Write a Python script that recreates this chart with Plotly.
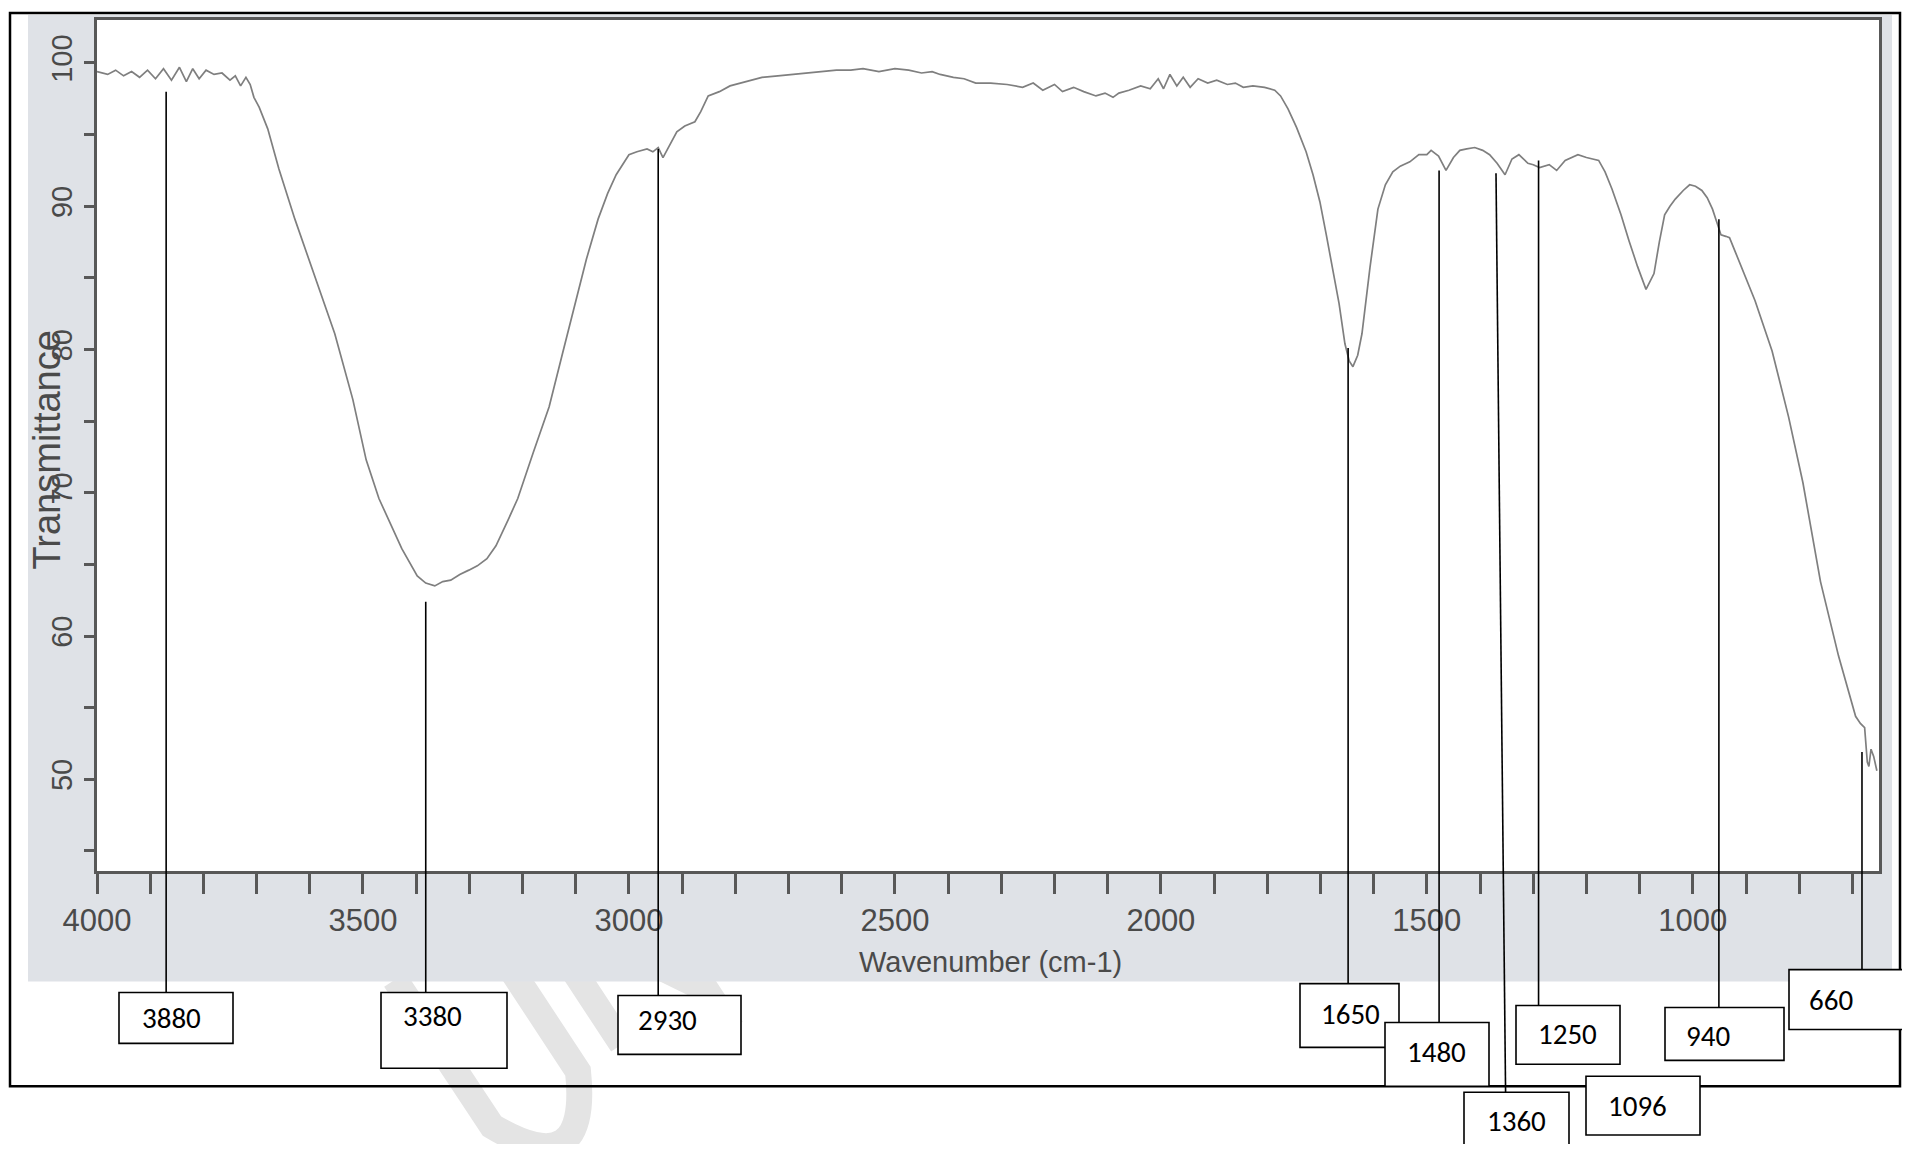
import plotly.graph_objects as go

# ---------------- data ----------------
wavenumber = [
    4000, 3980, 3965, 3950, 3935, 3920, 3905, 3890, 3875, 3860, 3845, 3832, 3820, 3808, 3795,
    3780, 3765, 3750, 3740, 3730, 3720, 3712, 3705, 3695, 3679, 3658, 3628, 3596, 3553, 3519,
    3494, 3470, 3450, 3427, 3398, 3382, 3365, 3350, 3335, 3318, 3301, 3285, 3267, 3250, 3226,
    3209, 3180, 3150, 3125, 3100, 3080, 3058, 3040, 3024, 3010, 3000, 2985, 2966, 2955, 2945,
    2936, 2925, 2910, 2895, 2876, 2865, 2851, 2830, 2810, 2780, 2750, 2720, 2690, 2667, 2640,
    2610, 2583, 2560, 2530, 2500, 2474, 2450, 2430, 2415, 2390, 2370, 2348, 2320, 2289, 2260,
    2240, 2222, 2200, 2185, 2164, 2145, 2122, 2105, 2090, 2079, 2060, 2038, 2020, 2005, 1995,
    1983, 1970, 1958, 1945, 1930, 1912, 1895, 1875, 1860, 1845, 1827, 1805, 1786, 1775, 1761,
    1745, 1727, 1714, 1701, 1689, 1677, 1665, 1654, 1646, 1639, 1630, 1622, 1607, 1592, 1578,
    1564, 1550, 1532, 1515, 1500, 1492, 1478, 1464, 1450, 1438, 1425, 1410, 1395, 1382, 1368,
    1353, 1340, 1327, 1310, 1300, 1288, 1270, 1256, 1240, 1216, 1200, 1177, 1165, 1152, 1135,
    1120, 1104, 1088, 1073, 1063, 1053, 1043, 1033, 1018, 1006, 995, 983, 973, 963, 955,
    947, 938, 931, 920, 908, 883, 851, 820, 793, 760, 726, 694, 685, 677, 672,
    669, 665, 660, 654,
]
transmittance = [
    99.4, 99.2, 99.5, 99.1, 99.4, 99.0, 99.5, 98.9, 99.6, 98.8, 99.7, 98.7, 99.6, 98.9, 99.5,
    99.2, 99.3, 98.8, 99.1, 98.4, 99.0, 98.5, 97.6, 96.9, 95.4, 92.6, 89.1, 85.7, 81.1, 76.5,
    72.3, 69.6, 68.0, 66.1, 64.2, 63.7, 63.5, 63.8, 63.9, 64.3, 64.6, 64.9, 65.4, 66.3, 68.2,
    69.6, 72.8, 76.0, 79.7, 83.4, 86.3, 89.1, 90.9, 92.2, 93.0, 93.6, 93.8, 94.0, 93.8, 94.1,
    93.4, 94.2, 95.2, 95.6, 95.9, 96.6, 97.7, 98.0, 98.4, 98.7, 99.0, 99.1, 99.2, 99.3, 99.4,
    99.5, 99.5, 99.6, 99.4, 99.6, 99.5, 99.3, 99.4, 99.2, 99.0, 98.9, 98.6, 98.6, 98.5, 98.3,
    98.6, 98.1, 98.5, 98.0, 98.3, 98.0, 97.7, 97.9, 97.6, 97.9, 98.1, 98.4, 98.2, 98.9, 98.2,
    99.2, 98.4, 99.0, 98.3, 98.9, 98.6, 98.8, 98.5, 98.6, 98.3, 98.4, 98.3, 98.1, 97.7, 96.8,
    95.5, 93.8, 92.2, 90.3, 88.0, 85.7, 83.2, 80.4, 79.2, 78.8, 79.6, 81.1, 85.7, 89.8, 91.5,
    92.4, 92.8, 93.1, 93.6, 93.6, 93.9, 93.5, 92.5, 93.4, 93.9, 94.0, 94.1, 93.9, 93.6, 93.0,
    92.2, 93.3, 93.6, 93.0, 92.9, 92.7, 92.9, 92.5, 93.2, 93.6, 93.4, 93.2, 92.4, 91.2, 89.4,
    87.6, 85.8, 84.2, 85.3, 87.5, 89.4, 90.0, 90.5, 91.1, 91.5, 91.4, 91.1, 90.6, 89.8, 88.9,
    88.0, 87.9, 87.8, 86.8, 85.7, 83.4, 79.9, 75.3, 70.7, 63.8, 58.6, 54.4, 53.9, 53.6, 51.2,
    50.9, 52.1, 51.6, 50.6,
]

x_tick_values = [4000, 3500, 3000, 2500, 2000, 1500, 1000]
y_tick_values = [50, 60, 70, 80, 90, 100]

peak_labels = ["3880", "3380", "2930", "1650", "1480", "1360", "1250", "1096", "940", "660"]
# where each pointer line sits on the spectrum
peak_line_top_wn = [3870, 3382, 2945, 1648, 1477, 1370, 1290, None, 951, 682]
peak_line_bottom_wn = [3870, 3382, 2945, 1648, 1477, 1352, 1290, None, 951, 682]
peak_line_top_t = [98.0, 62.4, 94.0, 80.1, 92.5, 92.3, 93.2, None, 89.1, 51.9]

# ---------------- layout constants (page pixels) ----------------
BODY = 8                      # default page body margin before the figure
PAGE_W, PAGE_H = 1910, 1152
W, H = PAGE_W - 2 * BODY, PAGE_H - 2 * BODY
PL, PR, PT, PB = 97, 1879, 17, 871   # plotting area in page pixels
ML, MT = PL - BODY, PT - BODY
MR = (BODY + W) - PR
MB = (BODY + H) - PB
PW, PH = PR - PL, PB - PT
X_RANGE = [4000, 650]
Y_RANGE = [43.6, 103.0]

# label boxes: x0, y0, x1, y1 (page pixels) and text centre (page pixels)
label_boxes = [
    (119, 993, 233, 1044, 171, 1019),
    (381, 993, 507, 1069, 432, 1017),
    (618, 996, 741, 1055, 667, 1021),
    (1300, 984, 1399, 1048, 1350, 1015),
    (1385, 1023, 1489, 1087, 1436, 1053),
    (1464, 1093, 1569, 1160, 1516, 1122),
    (1516, 1006, 1620, 1065, 1567, 1035),
    (1586, 1077, 1700, 1136, 1637, 1107),
    (1665, 1008, 1784, 1061, 1708, 1037),
    (1789, 970, 1915, 1030, 1831, 1000),
]

# faint watermark strokes (page pixels), partly hidden by the scanned area
watermark_paths = [
    [("M", 395, 980), ("L", 492, 1127), ("Q", 590, 1186, 578, 1072), ("L", 485, 930)],
    [("M", 622, 1045), ("L", 529, 903), ("L", 706, 990), ("L", 613, 848)],
]


def px_x(px):
    return (px - PL) / PW


def px_y(py):
    return 1 - (py - PT) / PH


def val_y(v):
    return (v - Y_RANGE[0]) / (Y_RANGE[1] - Y_RANGE[0])


def path_str(cmds):
    out = []
    for c in cmds:
        op, pts = c[0], c[1:]
        coords = []
        for j in range(0, len(pts), 2):
            coords.append(f"{px_x(pts[j]):.5f},{px_y(pts[j + 1]):.5f}")
        out.append(op + " " + " ".join(coords))
    return " ".join(out)


fig = go.Figure()
fig.add_trace(go.Scatter(
    x=wavenumber, y=transmittance, mode="lines",
    line=dict(color="#7f7f7f", width=1.7), showlegend=False, hoverinfo="x+y",
))

shapes = []
for p in watermark_paths:
    shapes.append(dict(type="path", xref="paper", yref="paper", layer="below",
                       path=path_str(p), line=dict(color="#e4e4e4", width=26)))
# scanned grey background and white plotting area
shapes.append(dict(type="rect", xref="paper", yref="paper", layer="below",
                   x0=px_x(28), x1=px_x(1892), y0=px_y(982), y1=px_y(12),
                   fillcolor="#dfe2e7", line=dict(width=0)))
shapes.append(dict(type="rect", xref="paper", yref="paper", layer="below",
                   x0=0, x1=1, y0=0, y1=1, fillcolor="#ffffff", line=dict(width=0)))
# outer black frame
shapes.append(dict(type="rect", xref="paper", yref="paper", layer="above",
                   x0=px_x(10), x1=px_x(1900), y0=px_y(1087), y1=px_y(10),
                   line=dict(color="black", width=2.5)))

annotations = []
for i, lab in enumerate(peak_labels):
    bx0, by0, bx1, by1, tx, ty = label_boxes[i]
    if peak_line_top_wn[i] is not None:
        shapes.append(dict(type="line", xref="x", yref="paper", layer="above",
                           x0=peak_line_bottom_wn[i], x1=peak_line_top_wn[i],
                           y0=px_y(by0), y1=val_y(peak_line_top_t[i]),
                           line=dict(color="black", width=1.6)))
    shapes.append(dict(type="rect", xref="paper", yref="paper", layer="above",
                       x0=px_x(bx0), x1=px_x(bx1), y0=px_y(by1), y1=px_y(by0),
                       fillcolor="white", line=dict(color="black", width=1.6)))
    annotations.append(dict(text=lab, xref="paper", yref="paper",
                            x=px_x(tx), y=px_y(ty), xanchor="center", yanchor="middle",
                            showarrow=False,
                            font=dict(family="Carlito, Lato, sans-serif", size=29, color="black")))

annotations.append(dict(text="Transmittance", xref="paper", yref="paper",
                        x=px_x(47), y=px_y(449), textangle=-90,
                        xanchor="center", yanchor="middle", showarrow=False,
                        font=dict(family="Liberation Sans, Arial, sans-serif", size=38, color="#4a4a4a")))
annotations.append(dict(text="Wavenumber (cm-1)", xref="paper", yref="paper",
                        x=px_x(990), y=px_y(962), xanchor="center", yanchor="middle",
                        showarrow=False,
                        font=dict(family="Liberation Sans, Arial, sans-serif", size=29, color="#4a4a4a")))

fig.update_layout(
    width=W, height=H,
    margin=dict(l=ML, r=MR, t=MT, b=MB, pad=0),
    paper_bgcolor="white", plot_bgcolor="rgba(0,0,0,0)",
    shapes=shapes, annotations=annotations,
    font=dict(family="Liberation Sans, Arial, sans-serif", color="#4a4a4a"),
)
fig.update_xaxes(
    range=X_RANGE, autorange=False, showgrid=False, zeroline=False,
    showline=True, linecolor="#585858", linewidth=3, mirror=True,
    tickmode="array", tickvals=x_tick_values, ticktext=[str(v) for v in x_tick_values],
    ticks="outside", ticklen=20, tickwidth=2.5, tickcolor="#585858",
    tickfont=dict(size=31, color="#4a4a4a"),
    minor=dict(dtick=100, tick0=0, ticks="outside", ticklen=20, tickwidth=2.5, tickcolor="#585858"),
)
fig.update_yaxes(
    range=Y_RANGE, autorange=False, showgrid=False, zeroline=False,
    showline=True, linecolor="#585858", linewidth=3, mirror=True,
    tickmode="array", tickvals=y_tick_values, ticktext=[str(v) for v in y_tick_values],
    ticks="outside", ticklen=10, tickwidth=2.5, tickcolor="#585858", tickangle=-90,
    tickfont=dict(size=29, color="#4a4a4a"),
    minor=dict(dtick=5, tick0=0, ticks="outside", ticklen=10, tickwidth=2.5, tickcolor="#585858"),
)

fig.write_html("out.html")
